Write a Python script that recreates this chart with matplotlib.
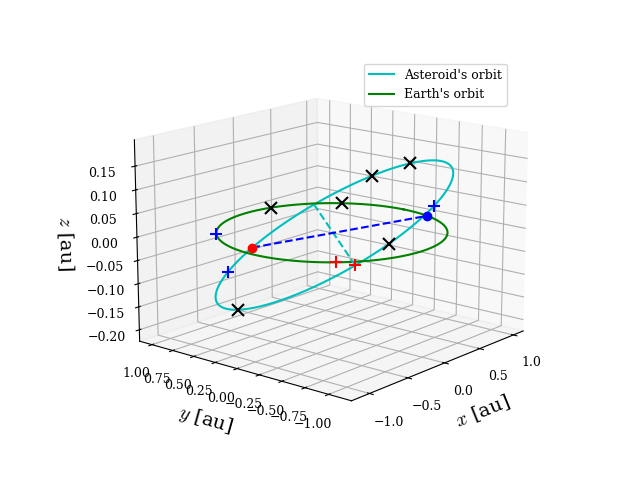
import numpy as np
import matplotlib
matplotlib.use("Agg")
import matplotlib.pyplot as plt

plt.rcParams['mathtext.fontset'] = 'cm'
plt.rcParams['font.family'] = 'serif'
plt.rcParams['font.serif'] = ['DejaVu Serif']

# orbital elements (asteroid)
e_ast = 0.07
p_ast = 1.03
inc_deg = 7.5
Omega_deg = 230.0
omega_deg = 180.0
# marker arguments of latitude (deg) on asteroid orbit
ast_black_u = [15.0, 125.0, 148.0, 302.0]
ast_blue_u = [42.0, 240.0]
ast_red_u = [0.0]
ast_dot_u = [218.0]
# marker angles (deg) on Earth orbit
earth_black_th = [35.0, 74.0]
earth_blue_th = [135.0]
earth_red_th = [222.0]
earth_dot_th = [-18.0]

def ast_xyz(u_deg):
    u = np.radians(np.asarray(u_deg, float))
    w = np.radians(omega_deg)
    r = p_ast / (1 + e_ast * np.cos(u - w))
    O, i = np.radians(Omega_deg), np.radians(inc_deg)
    x = r * (np.cos(O) * np.cos(u) - np.sin(O) * np.sin(u) * np.cos(i))
    y = r * (np.sin(O) * np.cos(u) + np.cos(O) * np.sin(u) * np.cos(i))
    z = r * np.sin(u) * np.sin(i)
    return x, y, z

def earth_xyz(th_deg):
    t = np.radians(np.asarray(th_deg, float))
    return np.cos(t), np.sin(t), 0 * t

fig = plt.figure(figsize=(6.4, 4.8), dpi=100)
ax = fig.add_subplot(projection='3d')
uu = np.linspace(0, 360, 400)
ax.plot(*ast_xyz(uu), color='c', label="Asteroid's orbit")
ax.plot(*earth_xyz(uu), color='g', label="Earth's orbit")

# line of nodes
nx, ny, nz = ast_xyz([0.0, 180.0])
ax.plot(nx, ny, nz, 'c--')
# asteroid - earth positions
ax_, ay_, az_ = ast_xyz(ast_dot_u)
ex_, ey_, ez_ = earth_xyz(earth_dot_th)
ax.plot([ax_[0], ex_[0]], [ay_[0], ey_[0]], [az_[0], ez_[0]], 'b--')
ax.plot(ax_, ay_, az_, 'ro')
ax.plot(ex_, ey_, ez_, 'bo')

ms = 8
ax.plot(*ast_xyz(ast_black_u), 'kx', ms=ms, mew=1.5, ls='none')
ax.plot(*ast_xyz(ast_blue_u), 'b+', ms=ms, mew=1.5, ls='none')
ax.plot(*ast_xyz(ast_red_u), 'r+', ms=ms, mew=1.5, ls='none')
ax.plot(*earth_xyz(earth_black_th), 'kx', ms=ms, mew=1.5, ls='none')
ax.plot(*earth_xyz(earth_blue_th), 'b+', ms=ms, mew=1.5, ls='none')
ax.plot(*earth_xyz(earth_red_th), 'r+', ms=ms, mew=1.5, ls='none')

ax.set_xticks([-1.0, -0.5, 0.0, 0.5, 1.0])
ax.set_yticks(np.arange(-1.0, 1.01, 0.25))
ax.set_zticks(np.arange(-0.20, 0.16, 0.05))
ax.set_zlim(-0.225, 0.205)
ax.tick_params(labelsize=9)
ax.set_xlabel(r'$x$ [au]', fontsize=14)
ax.set_ylabel(r'$y$ [au]', fontsize=14)
ax.set_zlabel(r'$z$ [au]', fontsize=14)
ax.view_init(elev=15, azim=-140)
ax.set_box_aspect(None, zoom=1.16)
ax.legend(loc='upper right', fontsize=9)
fig.savefig('out.png')
